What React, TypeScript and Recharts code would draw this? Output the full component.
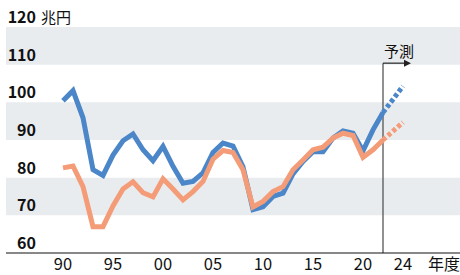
import React from 'react';
import { LineChart, Line, XAxis, YAxis, ReferenceArea, ReferenceLine } from 'recharts';

const years = [1990,1991,1992,1993,1994,1995,1996,1997,1998,1999,2000,2001,2002,2003,2004,2005,2006,2007,2008,2009,2010,2011,2012,2013,2014,2015,2016,2017,2018,2019,2020,2021,2022,2023,2024];
const blueActual = [100.4,103.1,95.9,82.1,80.6,86,89.8,91.6,87.4,84.5,88.3,83,78.5,79,81.3,86.7,89.2,88.4,82.9,71.5,72.3,75,75.9,81,84.3,86.9,86.9,90.5,92.4,91.8,87.1,92.7,97.3,null,null];
const blueForecast: (number|null)[] = [...Array(32).fill(null), 97.3, null, 104.3];
const orangeActual = [82.6,83.1,77.6,67,67,72.5,77,78.9,76,74.9,79.7,77,74.1,76.3,79,84.9,87.2,86.7,82.1,72.2,73.7,76.3,77.6,82.1,84.7,87.4,88.1,90.5,91.8,91.2,85.4,87.4,90,null,null];
const orangeForecast: (number|null)[] = [...Array(32).fill(null), 90, null, 94.7];
const xTicks = [1990,1995,2000,2005,2010,2015,2020,2024];
const yTicks = [60,70,80,90,100,110,120];
const bands = [[110,120],[90,100],[70,80]];
const forecastStart = 2022;
const forecastArrowTop = 110.4;
const forecastArrowEnd = 2024.8;

const data = years.map((y, i) => ({
  year: y,
  blue: blueActual[i],
  blueF: blueForecast[i],
  orange: orangeActual[i],
  orangeF: orangeForecast[i],
}));

const BLUE = '#4a86c8';
const ORANGE = '#f49c78';
const BAND = '#e9ecef';
const FONT = '"Noto Sans CJK JP", "Noto Sans", sans-serif';

const YTick = (props: any) => {
  const { y, payload } = props;
  return (
    <g>
      <text x={36} y={y - 4} textAnchor="end" fontFamily={FONT} fontWeight={700} fontSize={16} fill="#111">{payload.value}</text>
      {payload.value === 120 && (
        <text x={41} y={y - 4} textAnchor="start" fontFamily={FONT} fontSize={15} fill="#111">兆円</text>
      )}
    </g>
  );
};

const XTick = (props: any) => {
  const { x, payload } = props;
  const label = String(payload.value % 100).padStart(2, '0');
  return (
    <g>
      <text x={x} y={270} textAnchor="middle" fontFamily={FONT} fontSize={16.5} fill="#111">{label}</text>
      {payload.value === 2024 && (
        <text x={x + 41} y={270} textAnchor="middle" fontFamily={FONT} fontSize={16} fill="#111">年度</text>
      )}
    </g>
  );
};

const ForecastShape = (props: any) => {
  const { x1, y1, x2, y2 } = props;
  return (
    <g>
      <line x1={x1} y1={y1} x2={x2 - 5} y2={y2} stroke="#222" strokeWidth={1.2} />
      <path d={`M${x2},${y2} L${x2 - 7},${y2 - 3.5} L${x2 - 7},${y2 + 3.5} Z`} fill="#222" />
      <text x={x1 + 1} y={y1 - 6} fontFamily={FONT} fontSize={15} fill="#111">予測</text>
    </g>
  );
};

export default function App() {
  return (
    <div style={{ position: 'absolute', left: 0, top: 0, background: '#fff' }}>
      <LineChart width={460} height={275} data={data} margin={{ top: 27, right: 0, bottom: 2, left: 5 }}>
        {bands.map(([a, b]) => (
          <ReferenceArea key={a} y1={a} y2={b} fill={BAND} fillOpacity={1} stroke="none" ifOverflow="visible" />
        ))}
        <XAxis dataKey="year" type="number" domain={[1984.3, 2029.7]} ticks={xTicks} height={20}
          axisLine={{ stroke: '#111', strokeWidth: 1 }} tickLine={false} tick={<XTick />} interval={0} allowDataOverflow />
        <YAxis type="number" domain={[60, 120]} ticks={yTicks} width={1} axisLine={false} tickLine={false} tick={<YTick />} interval={0} allowDataOverflow />
        <ReferenceLine segment={[{ x: forecastStart, y: forecastArrowTop }, { x: forecastStart, y: 60 }]} stroke="#555" strokeWidth={1.3} ifOverflow="visible" />
        <Line dataKey="blue" stroke={BLUE} strokeWidth={5} dot={false} activeDot={false} isAnimationActive={false} />
        <Line dataKey="blueF" stroke={BLUE} strokeWidth={5} strokeDasharray="4 2.5" dot={false} activeDot={false} connectNulls isAnimationActive={false} />
        <Line dataKey="orange" stroke={ORANGE} strokeWidth={5} dot={false} activeDot={false} isAnimationActive={false} />
        <Line dataKey="orangeF" stroke={ORANGE} strokeWidth={5} strokeDasharray="4 2.5" dot={false} activeDot={false} connectNulls isAnimationActive={false} />
        <ReferenceLine segment={[{ x: forecastStart, y: forecastArrowTop }, { x: forecastArrowEnd, y: forecastArrowTop }]} shape={<ForecastShape />} ifOverflow="visible" />
      </LineChart>
    </div>
  );
}
